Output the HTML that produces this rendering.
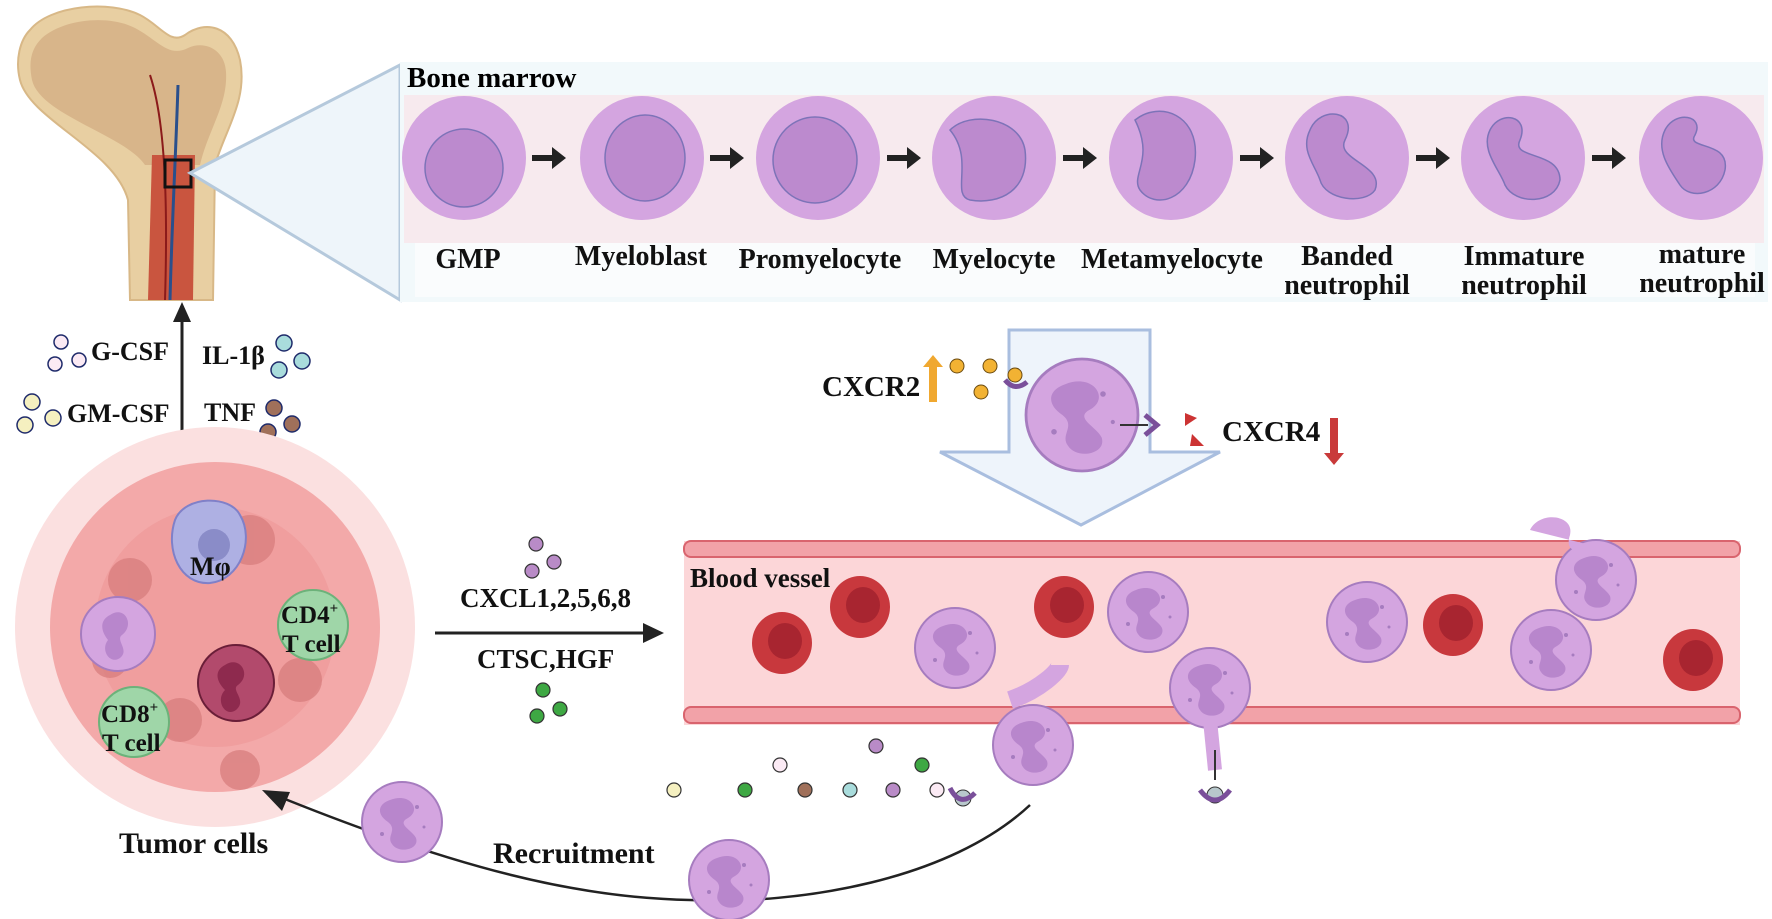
<!DOCTYPE html>
<html><head><meta charset="utf-8"><style>
html,body{margin:0;padding:0;background:#fff;}
svg{display:block;font-family:"Liberation Serif",serif;font-weight:bold;}
</style></head><body>
<svg width="1772" height="919" viewBox="0 0 1772 919" xmlns="http://www.w3.org/2000/svg">
<defs>
<g id="neu"><circle r="40" fill="#d4a5e0" stroke="#a67cbf" stroke-width="2"/><path d="M-12,-22 C8,-30 20,-12 6,-4 C-6,2 10,8 14,16 C18,28 -4,32 -10,22 C-16,14 -4,8 -14,0 C-26,-8 -24,-18 -12,-22z" fill="#b886cc"/><circle cx="15" cy="-15" r="2" fill="#a67cbf"/><circle cx="-20" cy="12" r="2" fill="#a67cbf"/><circle cx="22" cy="5" r="1.5" fill="#a67cbf"/></g>
<g id="rbc"><ellipse rx="30" ry="31" fill="#c8383d"/><ellipse rx="17" ry="18" cx="3" cy="-2" fill="#a82530"/></g>
</defs>
<!-- bone -->
<path d="M30,30 C50,5 110,0 140,15 C160,25 170,45 185,35 C205,20 232,25 240,60 C248,100 225,130 215,165 L213,300 L130,300 L128,200 C115,150 30,120 20,80 C15,60 20,40 30,30z" fill="#e8cfa2" stroke="#d8b887" stroke-width="2"/>
<path d="M42,38 C65,18 110,15 135,28 C158,40 168,58 188,48 C205,40 225,50 226,72 C228,105 208,130 200,165 L145,165 C125,135 40,115 32,80 C28,60 32,48 42,38z" fill="#d8b58a"/>
<path d="M152,155 L195,155 L193,300 L148,300z" fill="#c9553f"/>
<path d="M178,85 C176,150 172,220 170,300" stroke="#2a4f8c" stroke-width="3" fill="none"/>
<path d="M150,75 C165,120 168,200 165,300" stroke="#8b1a1a" stroke-width="2" fill="none"/>
<rect x="165" y="160" width="26" height="27" fill="none" stroke="#111" stroke-width="3"/>
<!-- zoom triangle -->
<polygon points="190,173 400,65 400,300" fill="#eef5fa" stroke="#b5c9dc" stroke-width="3"/>
<!-- panel -->
<rect x="400" y="62" width="1368" height="240" fill="#f2f9fb"/>
<rect x="404" y="95" width="1360" height="148" fill="#f7eaee"/>
<rect x="415" y="243" width="1340" height="54" fill="#fafcfd"/>
<text x="407" y="87" font-size="29">Bone marrow</text>
<g fill="#d4a5e0">
<circle cx="464" cy="158" r="62"/><circle cx="642" cy="158" r="62"/><circle cx="818" cy="158" r="62"/><circle cx="994" cy="158" r="62"/><circle cx="1171" cy="158" r="62"/><circle cx="1347" cy="158" r="62"/><circle cx="1523" cy="158" r="62"/><circle cx="1701" cy="158" r="62"/>
</g>
<g fill="#bc8ace" stroke="#7d73b8" stroke-width="1.5">
<ellipse cx="464" cy="168" rx="39" ry="39"/><ellipse cx="645" cy="158" rx="40" ry="43"/><ellipse cx="815" cy="160" rx="42" ry="43"/>
<path d="M950,130 C970,110 1020,118 1025,150 C1030,190 1000,205 970,200 C950,195 975,160 950,130z"/>
<path d="M1135,120 C1160,100 1200,115 1195,160 C1190,200 1155,210 1140,190 C1130,175 1155,160 1135,120z"/>
<path d="M1310,130 C1320,105 1360,110 1345,140 C1335,160 1385,165 1375,190 C1365,205 1325,200 1320,180 C1315,165 1300,150 1310,130z"/>
<path d="M1490,130 C1500,110 1530,115 1520,140 C1510,160 1560,150 1560,180 C1555,205 1515,205 1505,185 C1500,170 1480,150 1490,130z"/>
<path d="M1665,130 C1675,110 1705,115 1695,135 C1685,150 1730,140 1725,170 C1720,195 1690,200 1680,185 C1670,170 1655,150 1665,130z"/>
</g>
<g fill="#222">
<path d="M532,155 h20 v-8 l14,11 -14,11 v-8 h-20z"/><path d="M710,155 h20 v-8 l14,11 -14,11 v-8 h-20z"/><path d="M887,155 h20 v-8 l14,11 -14,11 v-8 h-20z"/><path d="M1063,155 h20 v-8 l14,11 -14,11 v-8 h-20z"/><path d="M1240,155 h20 v-8 l14,11 -14,11 v-8 h-20z"/><path d="M1416,155 h20 v-8 l14,11 -14,11 v-8 h-20z"/><path d="M1592,155 h20 v-8 l14,11 -14,11 v-8 h-20z"/>
</g>
<g font-size="28" text-anchor="middle" fill="#111">
<text x="468" y="268">GMP</text><text x="641" y="265">Myeloblast</text><text x="820" y="268">Promyelocyte</text><text x="994" y="268">Myelocyte</text><text x="1172" y="268">Metamyelocyte</text>
<text x="1347" y="265">Banded</text><text x="1347" y="294">neutrophil</text>
<text x="1524" y="265">Immature</text><text x="1524" y="294">neutrophil</text>
<text x="1702" y="263">mature</text><text x="1702" y="292">neutrophil</text>
</g>
<!-- up arrow -->
<line x1="182" y1="441" x2="182" y2="320" stroke="#222" stroke-width="3"/>
<path d="M173,322 L182,302 L191,322z" fill="#222"/>
<g font-size="26" fill="#111"><text x="91" y="360">G-CSF</text><text x="67" y="422">GM-CSF</text><text x="202" y="364">IL-1β</text><text x="204" y="421">TNF</text></g>
<g stroke="#1e2a6a" stroke-width="1.5"><circle cx="61" cy="342" r="7" fill="#fbeaf4"/><circle cx="55" cy="364" r="7" fill="#fbeaf4"/><circle cx="79" cy="360" r="7" fill="#fbeaf4"/>
<circle cx="284" cy="343" r="8" fill="#a9dcdc"/><circle cx="302" cy="361" r="8" fill="#a9dcdc"/><circle cx="279" cy="370" r="8" fill="#a9dcdc"/>
<circle cx="32" cy="402" r="8" fill="#f5f0c0"/><circle cx="25" cy="425" r="8" fill="#f5f0c0"/><circle cx="53" cy="418" r="8" fill="#f5f0c0"/>
<circle cx="274" cy="408" r="8" fill="#a0705a"/><circle cx="292" cy="424" r="8" fill="#a0705a"/><circle cx="268" cy="432" r="8" fill="#a0705a"/></g>
<!-- tumor -->
<circle cx="215" cy="627" r="200" fill="#fbe0e0"/>
<circle cx="215" cy="627" r="165" fill="#f3a9a9"/>
<circle cx="215" cy="627" r="120" fill="#ee9a9a" opacity="0.7"/>
<g fill="#d67b7b" opacity="0.7"><circle cx="130" cy="580" r="22"/><circle cx="250" cy="540" r="25"/><circle cx="300" cy="680" r="22"/><circle cx="180" cy="720" r="22"/><circle cx="240" cy="770" r="20"/><circle cx="110" cy="660" r="18"/></g>
<path d="M175,520 C185,495 230,495 240,515 C255,540 240,580 210,583 C180,585 165,550 175,520z" fill="#aeb0e3" stroke="#8080c8" stroke-width="2"/>
<circle cx="214" cy="545" r="16" fill="#8a8cc8"/>
<text x="190" y="575" font-size="26" fill="#111">Mφ</text>
<circle cx="118" cy="634" r="37" fill="#d4a5e0" stroke="#a67cbf" stroke-width="2"/>
<path d="M110,615 C125,605 135,625 122,635 C115,640 130,650 120,658 C110,665 100,650 108,640 C100,630 100,620 110,615z" fill="#b886cc"/>
<circle cx="313" cy="625" r="35" fill="#9fd6a8" stroke="#6cb27a" stroke-width="2"/>
<text x="281" y="623" font-size="25" fill="#111">CD4<tspan font-size="15" dy="-10">+</tspan></text>
<text x="282" y="652" font-size="25" fill="#111">T cell</text>
<circle cx="236" cy="683" r="38" fill="#b24a6c" stroke="#6a1e38" stroke-width="2"/>
<path d="M225,665 C240,655 252,675 238,685 C230,690 248,700 236,710 C225,718 215,700 225,690 C215,680 215,670 225,665z" fill="#8e2a4e"/>
<circle cx="134" cy="722" r="35" fill="#9fd6a8" stroke="#6cb27a" stroke-width="2"/>
<text x="101" y="722" font-size="25" fill="#111">CD8<tspan font-size="15" dy="-10">+</tspan></text>
<text x="102" y="751" font-size="25" fill="#111">T cell</text>
<text x="119" y="853" font-size="30" fill="#111">Tumor cells</text>
<!-- cxcl arrow -->
<line x1="435" y1="633" x2="645" y2="633" stroke="#222" stroke-width="3"/>
<path d="M643,623 L664,633 L643,643z" fill="#222"/>
<text x="460" y="607" font-size="27" fill="#111">CXCL1,2,5,6,8</text>
<text x="477" y="668" font-size="27" fill="#111">CTSC,HGF</text>
<g stroke="#333" stroke-width="1.2"><circle cx="536" cy="544" r="7" fill="#b98bc7"/><circle cx="532" cy="571" r="7" fill="#b98bc7"/><circle cx="554" cy="562" r="7" fill="#b98bc7"/>
<circle cx="543" cy="690" r="7" fill="#3ea843"/><circle cx="537" cy="716" r="7" fill="#3ea843"/><circle cx="560" cy="709" r="7" fill="#3ea843"/></g>
<!-- big down arrow -->
<path d="M1009,330 H1150 V452 H1220 L1081,525 L940,452 H1009z" fill="#eef4fb" stroke="#a9bedf" stroke-width="3"/>
<use href="#neu" transform="translate(1082,415) scale(1.4)"/>
<text x="822" y="396" font-size="29" fill="#111">CXCR2</text>
<text x="1222" y="441" font-size="29" fill="#111">CXCR4</text>
<path d="M929,402 v-35 h-6 l10,-12 10,12 h-6 v35z" fill="#f0a830"/>
<path d="M1330,418 v35 h-6 l10,12 10,-12 h-6 v-35z" fill="#c93a3a"/>
<g fill="#f2b233" stroke="#6a4a10" stroke-width="1"><circle cx="957" cy="366" r="7"/><circle cx="990" cy="366" r="7"/><circle cx="981" cy="392" r="7"/><circle cx="1015" cy="375" r="7"/></g>
<path d="M1005,380 q10,12 22,2" fill="none" stroke="#7a4f9a" stroke-width="5"/>
<path d="M1120,425 h28" stroke="#333" stroke-width="2"/><path d="M1145,415 l12,10 -12,10" fill="none" stroke="#7a4f9a" stroke-width="5"/>
<path d="M1185,413 l12,5 -12,8z" fill="#c33"/><path d="M1192,434 l12,12 h-14z" fill="#c33"/>
<!-- vessel -->
<rect x="684" y="541" width="1056" height="184" fill="#fcd6d8"/>
<rect x="684" y="541" width="1056" height="16" rx="7" fill="#f2a2a8" stroke="#d9646e" stroke-width="2"/>
<rect x="684" y="707" width="1056" height="16" rx="7" fill="#f2a2a8" stroke="#d9646e" stroke-width="2"/>
<text x="690" y="587" font-size="27" fill="#111">Blood vessel</text>
<use href="#rbc" x="782" y="643"/><use href="#rbc" x="860" y="607"/><use href="#rbc" x="1064" y="607"/><use href="#rbc" x="1453" y="625"/><use href="#rbc" x="1693" y="660"/>
<use href="#neu" x="955" y="648"/><use href="#neu" x="1148" y="612"/><use href="#neu" x="1367" y="622"/><use href="#neu" x="1551" y="650"/><use href="#neu" x="1596" y="580"/>
<path d="M1530,530 C1540,510 1575,515 1570,535 C1565,550 1575,555 1590,545" fill="#d4a5e0"/>
<use href="#neu" x="1210" y="688"/><use href="#neu" x="1033" y="745"/>
<path d="M1010,700 C1040,690 1060,670 1060,665" stroke="#d4a5e0" stroke-width="18" fill="none"/>
<path d="M1210,720 L1215,770" stroke="#d4a5e0" stroke-width="14"/>
<line x1="1215" y1="750" x2="1215" y2="780" stroke="#333" stroke-width="2"/>
<circle cx="1215" cy="795" r="8" fill="#b8c8cc" stroke="#333"/><path d="M1200,790 q15,20 30,0" fill="none" stroke="#7a4f9a" stroke-width="5"/>
<circle cx="963" cy="798" r="8" fill="#b8c8cc" stroke="#333"/><path d="M950,788 q10,20 25,5" fill="none" stroke="#7a4f9a" stroke-width="5"/>
<g stroke="#333" stroke-width="1.2"><circle cx="876" cy="746" r="7" fill="#b98bc7"/><circle cx="780" cy="765" r="7" fill="#fbeaf4"/><circle cx="922" cy="765" r="7" fill="#3ea843"/><circle cx="674" cy="790" r="7" fill="#f5f0c0"/><circle cx="745" cy="790" r="7" fill="#3ea843"/><circle cx="805" cy="790" r="7" fill="#a0705a"/><circle cx="850" cy="790" r="7" fill="#a9dcdc"/><circle cx="893" cy="790" r="7" fill="#b98bc7"/><circle cx="937" cy="790" r="7" fill="#fbeaf4"/></g>
<!-- recruitment -->
<path d="M1030,805 C950,880 800,905 690,900 C580,898 460,870 275,795" fill="none" stroke="#222" stroke-width="2.5"/>
<path d="M290,792 L262,790 L282,811z" fill="#222"/>
<use href="#neu" x="402" y="822"/><use href="#neu" x="729" y="880"/>
<text x="493" y="863" font-size="30" fill="#111">Recruitment</text>
</svg>
</body></html>
